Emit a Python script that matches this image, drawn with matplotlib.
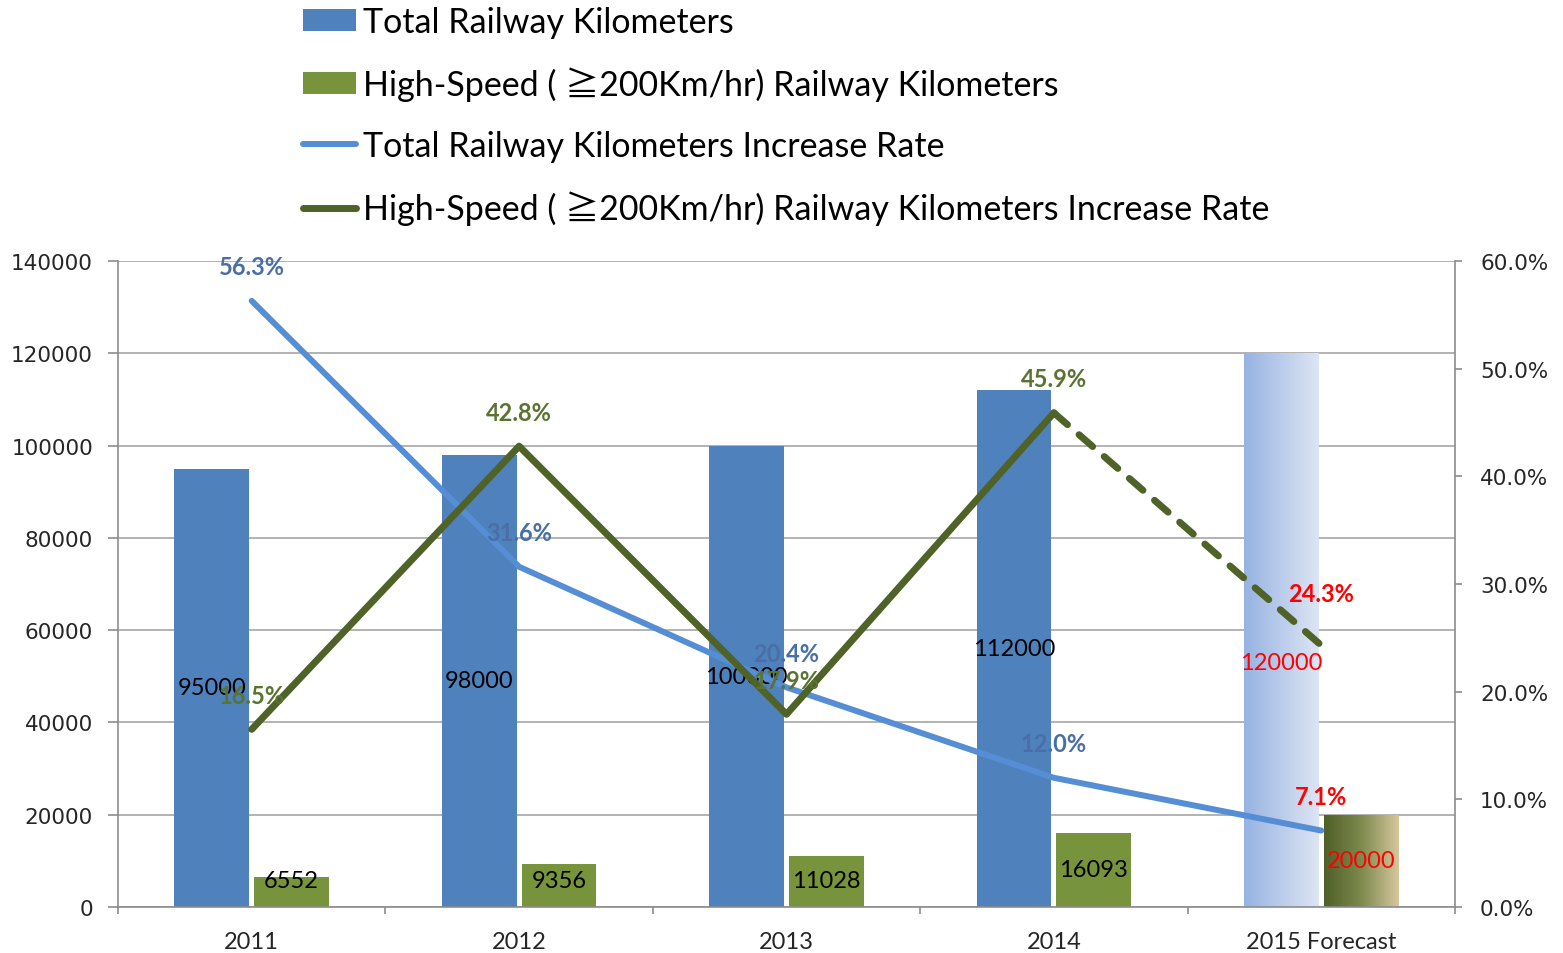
import numpy as np
import matplotlib
matplotlib.use("Agg")
import matplotlib.pyplot as plt
from matplotlib.colors import LinearSegmentedColormap
from matplotlib.lines import Line2D
from matplotlib.patches import Patch
from matplotlib.ticker import FuncFormatter, MultipleLocator

# railway length and growth per year
years = ["2011", "2012", "2013", "2014", "2015 Forecast"]
total_km = [95000, 98000, 100000, 112000, 120000]
hs_km = [6552, 9356, 11028, 16093, 20000]
total_rate = [56.3, 31.6, 20.4, 12.0, 7.1]
hs_rate = [16.5, 42.8, 17.9, 45.9, 24.3]

BLUE = "#4F81BD"
GREEN = "#77933C"
LINE_BLUE = "#558ED5"
LINE_OLIVE = "#4F6228"
GRID = "#A6A6A6"
TXT = "#262626"
LBL_BLUE = "#4A6EA6"
LBL_OLIVE = "#5B7332"
RED = "#FF0000"

FONT = ["Lato", "Noto Sans CJK JP", "DejaVu Sans"]

fig = plt.figure(figsize=(15.63, 9.54), dpi=100)
ax = fig.add_axes([118 / 1563, 1 - 908 / 954, 1337 / 1563, 646 / 954])
ax2 = ax.twinx()

x = np.arange(len(years))
w = 0.28
off = 0.149
bars_t = ax.bar(x - off, total_km, w, color=BLUE, zorder=2)
bars_h = ax.bar(x + off, hs_km, w, color=GREEN, zorder=2)

# forecast bars get a horizontal gradient fill
def gradient_fill(patch, colors):
    cmap = LinearSegmentedColormap.from_list("g", colors)
    x0, h = patch.get_x(), patch.get_height()
    x1 = x0 + patch.get_width()
    im = ax.imshow(np.linspace(0, 1, 256).reshape(1, -1), cmap=cmap,
                   extent=[x0, x1, 0, h], aspect="auto", zorder=2.1)
    im.set_clip_path(patch)
    patch.set_facecolor("none")

gradient_fill(bars_t[-1], ["#97B3E2", "#DDE5F4"])
gradient_fill(bars_h[-1], ["#4E5F27", "#7E8A4E", "#D6C79C"])

ax.set_xlim(-0.5, len(years) - 0.5)
ax.set_ylim(0, 140000)
ax.yaxis.set_major_locator(MultipleLocator(20000))
ax.grid(axis="y", color=GRID, linewidth=1.2, zorder=0)
ax.set_axisbelow(True)

ax.set_xticks(x)
ax.set_xticklabels(years, fontsize=17, family=FONT, color=TXT)
ax.set_xticks(np.arange(len(years) + 1) - 0.5, minor=True)
ax.tick_params(axis="x", which="major", length=0, pad=17)
ax.tick_params(axis="x", which="minor", length=5, color="#8C8C8C", width=1.2)
ax.tick_params(axis="y", direction="out", length=7, color="#8C8C8C", width=1.2,
               pad=11, labelsize=15.5, labelcolor=TXT)

for s in ["top", "right"]:
    ax.spines[s].set_visible(False)
for s in ["left", "bottom"]:
    ax.spines[s].set_color("#8C8C8C")
    ax.spines[s].set_linewidth(1.2)

# rate lines on the right axis
ax2.set_ylim(0, 60)
ax2.yaxis.set_major_locator(MultipleLocator(10))
ax2.yaxis.set_major_formatter(FuncFormatter(lambda v, p: f"{v:.1f}%"))
ax2.tick_params(axis="y", direction="out", length=5, color="#8C8C8C", width=1.2,
                pad=13, labelsize=15.5, labelcolor=TXT)
for s in ["top", "left", "bottom"]:
    ax2.spines[s].set_visible(False)
ax2.spines["right"].set_color("#8C8C8C")
ax2.spines["right"].set_linewidth(1.2)

ax2.plot(x, total_rate, color=LINE_BLUE, lw=4.3, solid_capstyle="round",
         solid_joinstyle="round", zorder=3)
ax2.plot(x[:4], hs_rate[:4], color=LINE_OLIVE, lw=5, solid_capstyle="round",
         solid_joinstyle="round", zorder=3)
ax2.plot(x[3:], hs_rate[3:], color=LINE_OLIVE, lw=5, linestyle=(0, (2.6, 2.2)),
         dash_capstyle="round", zorder=3)

# value labels
for i in range(len(years)):
    last = i == len(years) - 1
    b = bars_t[i]
    ax.annotate(f"{total_km[i]}", (b.get_x() + b.get_width() / 2, total_km[i] / 2),
                xytext=(0, -23 if last else 0), textcoords="offset points",
                ha="center", va="center", fontsize=17, family=FONT,
                color=RED if last else "black", zorder=4)
    b = bars_h[i]
    ax.annotate(f"{hs_km[i]}", (b.get_x() + b.get_width() / 2, max(hs_km[i] / 2, 5850)),
                ha="center", va="center", fontsize=17, family=FONT,
                color=RED if last else "black", zorder=4)
    ax2.annotate(f"{total_rate[i]:.1f}%", (x[i], total_rate[i]), xytext=(0, 24.5),
                 textcoords="offset points", ha="center", va="center",
                 fontsize=17, fontweight="bold", family=FONT,
                 color=RED if last else LBL_BLUE, zorder=5)
    ax2.annotate(f"{hs_rate[i]:.1f}%", (x[i], hs_rate[i]), xytext=(0, 37 if last else 24.5),
                 textcoords="offset points", ha="center", va="center",
                 fontsize=17, fontweight="bold", family=FONT,
                 color=RED if last else LBL_OLIVE, zorder=5)

for lab in ax.get_yticklabels() + ax2.get_yticklabels():
    lab.set_family("DejaVu Sans")

handles = [
    Patch(facecolor=BLUE),
    Patch(facecolor=GREEN),
    Line2D([], [], color=LINE_BLUE, lw=4.3, solid_capstyle="round"),
    Line2D([], [], color=LINE_OLIVE, lw=5, solid_capstyle="round"),
]
labels = [
    "Total Railway Kilometers",
    "High-Speed ( \u2267200Km/hr) Railway Kilometers",
    "Total Railway Kilometers Increase Rate",
    "High-Speed ( \u2267200Km/hr) Railway Kilometers Increase Rate",
]
fig.legend(handles, labels, loc="upper left", bbox_to_anchor=(303 / 1563, 1 - 7 / 954),
           frameon=False, borderpad=0.0, borderaxespad=0.0,
           handlelength=1.55, handleheight=0.6, handletextpad=0.2,
           labelspacing=0.84, prop={"family": FONT, "size": 24.5})

fig.savefig("out.png", dpi=100)
